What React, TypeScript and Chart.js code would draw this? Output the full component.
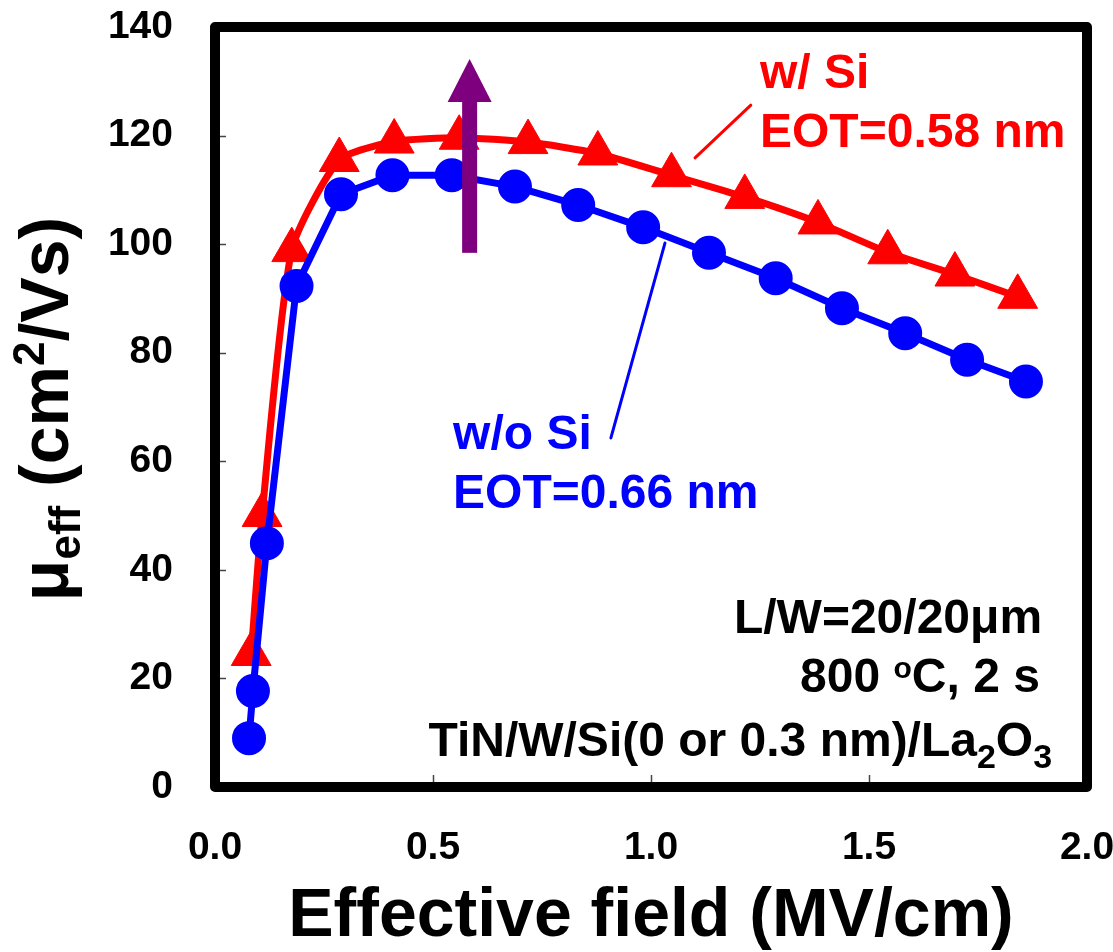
import React, { useEffect, useRef } from "react";
import { Chart, registerables } from "chart.js";

Chart.register(...registerables);

// ---- data ----
const fieldWithoutSi = [0.078, 0.087, 0.119, 0.187, 0.289, 0.407, 0.543, 0.688, 0.833, 0.982, 1.133, 1.286, 1.438, 1.583, 1.725, 1.86];
const mobilityWithoutSi = [9.0, 17.7, 44.9, 92.3, 109.2, 112.7, 112.7, 110.6, 107.2, 103.1, 98.4, 93.7, 88.2, 83.6, 78.7, 74.7];

const fieldWithSi = [0.083, 0.108, 0.176, 0.285, 0.411, 0.56, 0.718, 0.878, 1.047, 1.215, 1.383, 1.543, 1.697, 1.841];
const mobilityWithSi = [24.5, 50.1, 98.9, 115.5, 118.9, 119.6, 118.8, 116.7, 112.7, 108.7, 104.0, 98.5, 94.4, 90.3];

const xTickValues = [0, 0.5, 1.0, 1.5, 2.0];
const yTickValues = [0, 20, 40, 60, 80, 100, 120, 140];

const seriesNames = ["w/o Si", "w/ Si"];
const eotLabels = ["EOT=0.66 nm", "EOT=0.58 nm"];
const xAxisTitle = "Effective field (MV/cm)";
const yAxisTitleParts = [
  { text: "\u03bc", kind: "normal" },
  { text: "eff", kind: "sub" },
  { text: " (cm", kind: "normal" },
  { text: "2", kind: "sup" },
  { text: "/Vs)", kind: "normal" },
];
const conditionNotes = [
  [{ text: "L/W=20/20\u03bcm", kind: "normal" }],
  [
    { text: "800 ", kind: "normal" },
    { text: "o", kind: "sup" },
    { text: "C, 2 s", kind: "normal" },
  ],
  [
    { text: "TiN/W/Si(0 or 0.3 nm)/La", kind: "normal" },
    { text: "2", kind: "sub" },
    { text: "O", kind: "normal" },
    { text: "3", kind: "sub" },
  ],
];

const FONT = "'Liberation Sans', Arial, Helvetica, sans-serif";
const BLUE = "#0000FF";
const RED = "#FF0000";
const PURPLE = "#7F007F";

function drawRich(ctx, parts, startX, baseY, size, subSize, subDy, supDy) {
  let cx = startX;
  for (const p of parts) {
    const s = p.kind === "normal" ? size : subSize;
    const dy = p.kind === "sub" ? subDy : p.kind === "sup" ? supDy : 0;
    ctx.font = `bold ${s}px ${FONT}`;
    ctx.fillText(p.text, cx, baseY + dy);
    cx += ctx.measureText(p.text).width;
  }
}
function richWidth(ctx, parts, size, subSize) {
  let w = 0;
  for (const p of parts) {
    const s = p.kind === "normal" ? size : subSize;
    ctx.font = `bold ${s}px ${FONT}`;
    w += ctx.measureText(p.text).width;
  }
  return w;
}

const framePlugin = {
  id: "frameAndNotes",
  afterDatasetsDraw(chart) {
    const { ctx, chartArea, scales } = chart;
    const xs = scales.x;
    const ys = scales.y;
    const px = (v) => xs.getPixelForValue(v);
    const py = (v) => ys.getPixelForValue(v);
    ctx.save();

    // purple arrow
    const ax = px(0.584);
    const yBottom = py(98.4);
    const yHead = py(126.2);
    const yTip = py(134.1);
    ctx.fillStyle = PURPLE;
    ctx.fillRect(ax - 7.5, yHead - 1, 15, yBottom - yHead + 1);
    ctx.beginPath();
    ctx.moveTo(ax, yTip);
    ctx.lineTo(ax + 22, yHead);
    ctx.lineTo(ax - 22, yHead);
    ctx.closePath();
    ctx.fill();

    // leader lines
    ctx.lineCap = "round";
    ctx.lineWidth = 3;
    ctx.strokeStyle = RED;
    ctx.beginPath();
    ctx.moveTo(px(1.101), py(115.9));
    ctx.lineTo(px(1.229), py(125.6));
    ctx.stroke();
    ctx.strokeStyle = BLUE;
    ctx.beginPath();
    ctx.moveTo(px(0.908), py(64.3));
    ctx.lineTo(px(1.032), py(100.2));
    ctx.stroke();

    // series labels
    ctx.textAlign = "left";
    ctx.textBaseline = "alphabetic";
    ctx.font = `bold 48px ${FONT}`;
    ctx.fillStyle = RED;
    ctx.fillText(seriesNames[1], px(1.25), py(128.8));
    ctx.fillText(eotLabels[1], px(1.25), py(117.9));
    ctx.fillStyle = BLUE;
    ctx.fillText(seriesNames[0], px(0.546), py(62.3));
    ctx.fillText(eotLabels[0], px(0.546), py(51.4));

    // condition notes (right aligned)
    ctx.fillStyle = "#000";
    const rights = [1.897, 1.892, 1.92];
    const bases = [28.4, 17.5, 5.7];
    conditionNotes.forEach((parts, i) => {
      const isDeg = i === 1;
      const small = isDeg ? 30 : 34;
      const w = richWidth(ctx, parts, 48, small);
      drawRich(ctx, parts, px(rights[i]) - w, py(bases[i]), 48, small, 12, -14);
    });

    // inward ticks
    ctx.strokeStyle = "#444";
    ctx.lineWidth = 1.5;
    ctx.lineCap = "butt";
    yTickValues.forEach((v) => {
      const yy = Math.round(py(v)) + 0.5;
      ctx.beginPath();
      ctx.moveTo(chartArea.left, yy);
      ctx.lineTo(chartArea.left + 11, yy);
      ctx.stroke();
    });
    xTickValues.forEach((v) => {
      const xx = Math.round(px(v)) + 0.5;
      ctx.beginPath();
      ctx.moveTo(xx, chartArea.bottom);
      ctx.lineTo(xx, chartArea.bottom - 12);
      ctx.stroke();
    });

    // frame
    ctx.strokeStyle = "#000";
    ctx.lineWidth = 10;
    ctx.lineJoin = "round";
    ctx.strokeRect(chartArea.left, chartArea.top, chartArea.right - chartArea.left, chartArea.bottom - chartArea.top);

    // y axis title (rotated, with sub/superscripts)
    const cy = (chartArea.top + chartArea.bottom) / 2 + 2;
    ctx.translate(68, cy);
    ctx.rotate(-Math.PI / 2);
    const tw = richWidth(ctx, yAxisTitleParts, 68, 44);
    drawRich(ctx, yAxisTitleParts, -tw / 2, 0, 68, 44, 12, -24);
    ctx.restore();
  },
};

export default function App() {
  const canvasRef = useRef(null);

  useEffect(() => {
    const canvas = canvasRef.current;
    if (!canvas) return;
    const chart = new Chart(canvas, {
      type: "line",
      data: {
        datasets: [
          {
            label: seriesNames[0],
            data: fieldWithoutSi.map((x, i) => ({ x, y: mobilityWithoutSi[i] })),
            borderColor: BLUE,
            backgroundColor: BLUE,
            borderWidth: 7,
            pointStyle: "circle",
            pointRadius: 16,
            pointBorderWidth: 2,
            pointBackgroundColor: BLUE,
            pointBorderColor: BLUE,
            tension: 0,
            clip: false,
          },
          {
            label: seriesNames[1],
            data: fieldWithSi.map((x, i) => ({ x, y: mobilityWithSi[i] })),
            borderColor: RED,
            backgroundColor: RED,
            borderWidth: 7,
            pointStyle: "triangle",
            pointRadius: 23,
            pointBorderWidth: 1,
            pointBackgroundColor: RED,
            pointBorderColor: RED,
            tension: 0.2,
            clip: false,
          },
        ],
      },
      options: {
        responsive: false,
        animation: false,
        devicePixelRatio: 1,
        layout: { padding: { top: 27, right: 26, left: 0, bottom: 0 } },
        plugins: { legend: { display: false }, tooltip: { enabled: false } },
        scales: {
          x: {
            type: "linear",
            min: 0,
            max: 2,
            grid: { display: false, drawTicks: false },
            border: { display: false },
            ticks: {
              stepSize: 0.5,
              padding: 38,
              color: "#000",
              font: { family: FONT, size: 39, weight: "bold" },
              callback: (v) => Number(v).toFixed(1),
            },
            afterBuildTicks: (scale) => {
              scale.ticks = xTickValues.map((value) => ({ value }));
            },
            title: {
              display: true,
              text: xAxisTitle,
              color: "#000",
              font: { family: FONT, size: 68, weight: "bold", lineHeight: 1 },
              padding: { top: 0, bottom: 1 },
            },
            afterFit: (scale) => {
              scale.height = 165;
              scale.paddingLeft = 0;
              scale.paddingRight = 0;
            },
          },
          y: {
            type: "linear",
            min: 0,
            max: 140,
            grid: { display: false, drawTicks: false },
            border: { display: false },
            ticks: {
              stepSize: 20,
              padding: 42,
              color: "#000",
              font: { family: FONT, size: 39, weight: "bold" },
            },
            afterBuildTicks: (scale) => {
              scale.ticks = yTickValues.map((value) => ({ value }));
            },
            afterFit: (scale) => {
              scale.width = 215;
              scale.paddingTop = 0;
              scale.paddingBottom = 0;
            },
          },
        },
      },
      plugins: [framePlugin],
    });
    return () => chart.destroy();
  }, []);

  return (
    <div style={{ position: "absolute", left: 0, top: 0, width: 1113, height: 952, background: "#fff" }}>
      <canvas ref={canvasRef} width={1113} height={952} style={{ display: "block", width: 1113, height: 952 }} />
    </div>
  );
}
